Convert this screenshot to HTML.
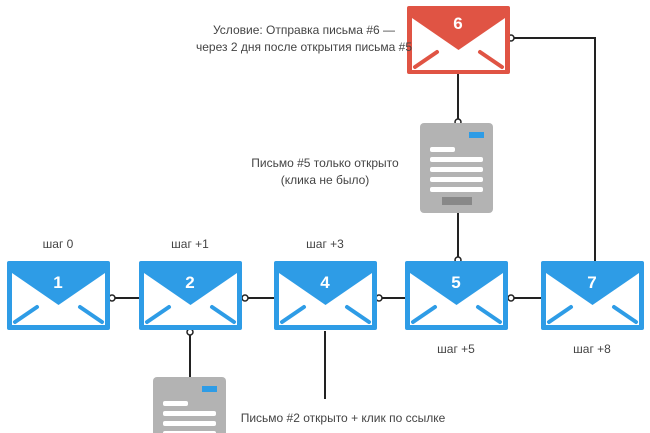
<!DOCTYPE html>
<html><head><meta charset="utf-8"><style>
html,body{margin:0;padding:0;background:#fff;width:650px;height:433px;overflow:hidden;}
svg{display:block;}
text{font-family:"Liberation Sans",sans-serif;}
</style></head><body>
<svg width="650" height="433" viewBox="0 0 650 433" xmlns="http://www.w3.org/2000/svg">
<defs>
<g id="env">
  <polygon points="5,12 51.5,44 98,12 98,64 5,64" fill="#fff"/>
  <line x1="8" y1="61" x2="30" y2="46" stroke="currentColor" stroke-width="4" stroke-linecap="round"/>
  <line x1="95" y1="61" x2="73" y2="46" stroke="currentColor" stroke-width="4" stroke-linecap="round"/>
</g>
<g id="doc">
  <rect x="0" y="0" width="73" height="90" rx="4" fill="#b3b3b3"/>
  <rect x="49" y="9" width="15" height="6" fill="#2e9ce6"/>
  <rect x="10" y="24" width="25" height="5" rx="2" fill="#fff"/>
  <rect x="10" y="34" width="53" height="5" rx="2" fill="#fff"/>
  <rect x="10" y="44" width="53" height="5" rx="2" fill="#fff"/>
  <rect x="10" y="54" width="53" height="5" rx="2" fill="#fff"/>
  <rect x="10" y="64" width="53" height="5" rx="2" fill="#fff"/>
  <rect x="22" y="74" width="30" height="8" fill="#888"/>
</g>
</defs>
<g stroke="#222" stroke-width="2" fill="none">
  <line x1="110" y1="298" x2="139" y2="298"/>
  <line x1="243" y1="298" x2="274" y2="298"/>
  <line x1="377" y1="298" x2="405" y2="298"/>
  <line x1="509" y1="298" x2="541" y2="298"/>
  <line x1="190" y1="331" x2="190" y2="377"/>
  <line x1="325" y1="331" x2="325" y2="399"/>
  <line x1="458" y1="212" x2="458" y2="261"/>
  <line x1="458" y1="73" x2="458" y2="123"/>
  <polyline points="595,261 595,38 510,38"/>
</g>
<g stroke="#222" stroke-width="1.5" fill="#fff">
  <circle cx="112" cy="298" r="3"/>
  <circle cx="245" cy="298" r="3"/>
  <circle cx="379" cy="298" r="3"/>
  <circle cx="511" cy="298" r="3"/>
  <circle cx="190" cy="332" r="3"/>
  <circle cx="458" cy="122" r="3"/>
  <circle cx="458" cy="260" r="3"/>
  <circle cx="511" cy="38" r="3"/>
</g>
<use href="#doc" x="420" y="123"/>
<use href="#doc" x="153" y="377"/>
<g color="#2e9ce6">
  <g transform="translate(7,261)"><rect width="103" height="69" rx="2" fill="#2e9ce6"/><use href="#env"/></g>
  <g transform="translate(139,261)"><rect width="103" height="69" rx="2" fill="#2e9ce6"/><use href="#env"/></g>
  <g transform="translate(274,261)"><rect width="103" height="69" rx="2" fill="#2e9ce6"/><use href="#env"/></g>
  <g transform="translate(405,261)"><rect width="103" height="69" rx="2" fill="#2e9ce6"/><use href="#env"/></g>
  <g transform="translate(541,261)"><rect width="103" height="69" rx="2" fill="#2e9ce6"/><use href="#env"/></g>
</g>
<g color="#e05444">
  <g transform="translate(407,6)"><rect width="103" height="68" rx="2" fill="#e05444"/><use href="#env"/></g>
</g>
<g fill="#fff" font-size="17" font-weight="bold" text-anchor="middle">
  <text x="58" y="288">1</text>
  <text x="190" y="288">2</text>
  <text x="325" y="288">4</text>
  <text x="456" y="288">5</text>
  <text x="592" y="288">7</text>
  <text x="458" y="29">6</text>
</g>
<g fill="#444" font-size="12" text-anchor="middle">
  <text x="58" y="248">шаг 0</text>
  <text x="190" y="248">шаг +1</text>
  <text x="325" y="248">шаг +3</text>
  <text x="456" y="353">шаг +5</text>
  <text x="592" y="353">шаг +8</text>
  <text x="304" y="34">Условие: Отправка письма #6 —</text>
  <text x="304" y="51">через 2 дня после открытия письма #5</text>
  <text x="325" y="167">Письмо #5 только открыто</text>
  <text x="325" y="184">(клика не было)</text>
  <text x="343" y="422">Письмо #2 открыто + клик по ссылке</text>
</g>
</svg>
</body></html>
